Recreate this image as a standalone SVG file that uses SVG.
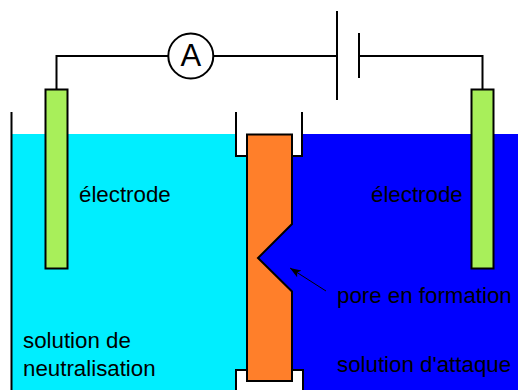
<svg xmlns="http://www.w3.org/2000/svg" width="518" height="390" viewBox="0 0 518 390">
<style>
.w{fill:none;stroke:#000;stroke-width:2}
.e{fill:#a8ef5a;stroke:#000;stroke-width:2}
text{font-family:"Liberation Sans",Arial,sans-serif;font-size:22.3px;fill:#000}
</style>
<defs><marker id="ah" markerUnits="userSpaceOnUse" markerWidth="12" markerHeight="10" refX="11" refY="4" orient="auto"><path d="M0 0L11 4L0 8L2.500 4Z" fill="#000"/></marker></defs>
<rect width="518" height="390" fill="#fff"/>
<g id="solution-neutralisation"><rect x="11" y="134" width="245" height="256" fill="#00eeff"/></g>
<g id="solution-attaque"><rect x="256" y="134" width="262" height="256" fill="#0000ff"/></g>
<g id="seal-top"><path d="M236 112V156H302V112" fill="#fff" stroke="none"/><path d="M236 112V156H302V112" class="w"/></g>
<g id="seal-bottom"><rect x="236" y="370" width="67" height="21" fill="#fff" stroke="#000" stroke-width="2"/></g>
<g id="vessel-wall"><path d="M11.500 112V390" class="w"/></g>
<g id="membrane"><path d="M247 134.500H292V224L258 258L292 291.500V381H247Z" fill="#ff7f2a" stroke="#000" stroke-width="2"/></g>
<g id="connectors">
<path d="M56.500 89V56H168M214 56H337M359 56H482.500V89" class="w"/>
<path d="M337 11V100M359 33V78" class="w"/>
<path d="M326 291L290 268" fill="none" stroke="#000" stroke-width="1" marker-end="url(#ah)"/>
</g>
<g id="ammeter"><circle cx="190.800" cy="56" r="22.500" fill="#fff" stroke="#000" stroke-width="2"/><text x="190.800" y="66" text-anchor="middle" style="font-size:31px">A</text></g>
<g id="electrode-left"><rect x="45.500" y="89.500" width="22" height="179" class="e"/></g>
<g id="electrode-right"><rect x="471.500" y="89.500" width="22" height="179" class="e"/></g>
<g id="labels">
<text x="79" y="202">électrode</text>
<text x="371" y="202">électrode</text>
<text x="337" y="303">pore en formation</text>
<text x="23" y="348">solution de</text>
<text x="23" y="376">neutralisation</text>
<text x="337" y="372">solution d'attaque</text>
</g>
</svg>
